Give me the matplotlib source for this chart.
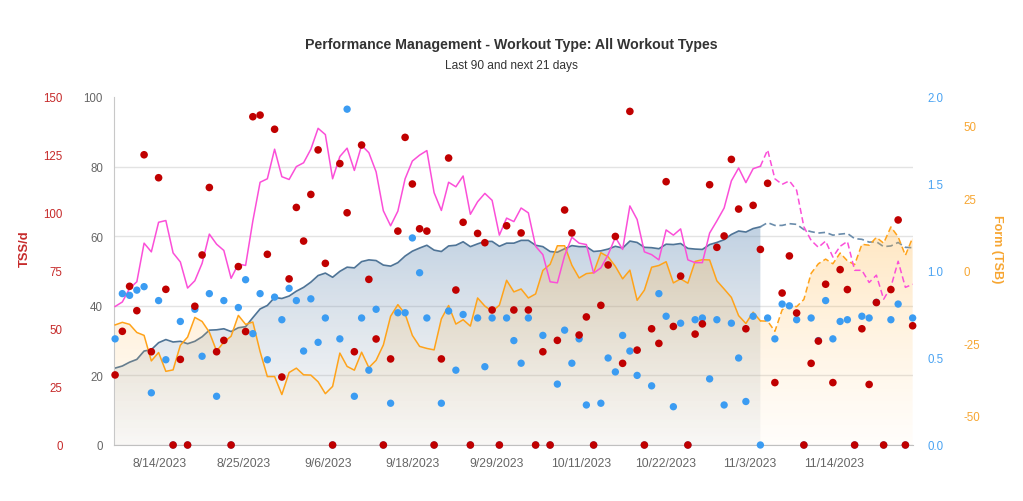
import matplotlib
matplotlib.use('Agg')
import matplotlib.pyplot as plt
import numpy as np
from matplotlib.colors import to_rgb

plt.rcParams['font.family'] = ['Liberation Sans', 'DejaVu Sans']
plt.rcParams['axes.unicode_minus'] = False

# daily values, 8/8/2023 .. 11/26/2023 (index 89 = today)
tss = [30.2, 49.0, 68.4, 57.9, 125.1, 40.2, 115.2, 67.1, 0, 36.9,
       0, 59.8, 81.9, 111.0, 40.2, 45.1, 0, 76.9, 48.9, 141.5,
       142.2, 82.2, 136.1, 29.3, 71.6, 102.4, 87.9, 108.0, 127.2, 78.3,
       0, 121.3, 100.1, 40.2, 129.3, 71.4, 45.7, 0, 37.1, 92.2,
       132.6, 112.5, 93.2, 92.2, 0, 37.1, 123.7, 66.8, 96.0, 0,
       91.2, 87.2, 58.2, 0, 94.5, 58.2, 91.4, 58.2, 0, 40.2,
       0, 45.1, 101.3, 91.4, 47.4, 55.2, 0, 60.2, 77.6, 89.9,
       35.2, 143.8, 40.9, 0, 50.1, 43.8, 113.5, 51.1, 72.8, 0,
       47.8, 52.2, 112.2, 85.2, 90.1, 123.1, 101.7, 50.1, 103.3, 84.3,
       112.8, 26.9, 65.5, 81.5, 56.9, 0, 35.2, 44.8, 69.3, 26.9,
       75.6, 67.0, 0, 50.1, 26.1, 61.4, 0, 67.0, 97.0, 0,
       51.4]

intensity = [0.61, 0.87, 0.86, 0.89, 0.91, 0.30, 0.83, 0.49, 0, 0.71,
             0, 0.78, 0.51, 0.87, 0.28, 0.83, 0, 0.79, 0.95, 0.64,
             0.87, 0.49, 0.85, 0.72, 0.90, 0.83, 0.54, 0.84, 0.59, 0.73,
             0, 0.61, 1.93, 0.28, 0.73, 0.43, 0.78, 0, 0.24, 0.76,
             0.76, 1.19, 0.99, 0.73, 0, 0.24, 0.77, 0.43, 0.75, 0,
             0.73, 0.45, 0.73, 0, 0.73, 0.60, 0.47, 0.73, 0, 0.63,
             0, 0.35, 0.66, 0.47, 0.61, 0.23, 0, 0.24, 0.50, 0.42,
             0.63, 0.54, 0.40, 0, 0.34, 0.87, 0.74, 0.22, 0.70, 0,
             0.72, 0.73, 0.38, 0.72, 0.23, 0.70, 0.50, 0.25, 0.74, 0,
             0.73, 0.61, 0.81, 0.80, 0.72, 0, 0.73, 0.60, 0.83, 0.61,
             0.71, 0.72, 0, 0.74, 0.73, 0.82, 0, 0.72, 0.81, 0,
             0.73]

ctl = [22.1, 22.7, 23.8, 24.6, 27.0, 27.4, 29.4, 30.3, 29.6, 29.8,
       29.1, 29.8, 31.1, 33.0, 33.1, 33.4, 32.6, 33.7, 34.0, 36.6,
       39.1, 40.1, 42.4, 42.1, 42.8, 44.2, 45.3, 46.8, 48.7, 49.4,
       48.2, 49.9, 51.1, 50.9, 52.7, 53.2, 53.0, 51.7, 51.4, 52.4,
       54.3, 55.7, 56.6, 57.4, 56.0, 55.6, 57.2, 57.4, 58.4, 57.0,
       57.8, 58.5, 58.5, 57.1, 58.0, 58.0, 58.8, 58.8, 57.4, 57.0,
       55.6, 55.4, 56.4, 57.3, 57.0, 57.0, 55.6, 55.8, 56.3, 57.1,
       56.6, 58.6, 58.2, 56.8, 56.7, 56.4, 57.7, 57.6, 57.9, 56.5,
       56.3, 56.2, 57.6, 58.2, 59.0, 60.5, 61.5, 61.2, 62.2, 62.7,
       63.9, 63.1, 63.1, 63.6, 63.4, 61.9, 61.3, 60.9, 61.1, 60.3,
       60.6, 60.8, 59.3, 59.1, 58.3, 58.4, 57.0, 57.2, 58.2, 56.8,
       56.7]

atl = [39.8, 41.1, 45.0, 46.9, 58.0, 55.5, 64.0, 64.5, 55.2, 52.6,
       45.1, 47.2, 52.2, 60.6, 57.7, 55.9, 47.9, 52.0, 51.6, 64.4,
       75.5, 76.5, 85.0, 77.1, 76.3, 80.0, 81.1, 85.0, 91.0, 89.2,
       76.5, 82.9, 85.3, 78.9, 86.1, 84.0, 78.5, 67.3, 63.0, 67.2,
       76.5, 81.6, 83.3, 84.6, 72.5, 67.4, 75.5, 74.2, 77.3, 66.3,
       69.9, 72.3, 70.3, 60.3, 65.2, 64.2, 68.1, 66.7, 57.1, 54.7,
       46.9, 46.6, 54.4, 59.7, 58.0, 57.6, 49.4, 50.9, 54.7, 59.7,
       56.2, 68.7, 64.8, 55.5, 54.7, 53.2, 61.8, 60.3, 62.1, 53.2,
       52.4, 52.4, 60.9, 64.4, 68.1, 75.9, 79.6, 75.4, 79.4, 80.1,
       84.8, 76.5, 74.9, 75.9, 73.2, 62.7, 58.8, 56.8, 58.6, 54.0,
       57.1, 58.5, 50.2, 50.2, 46.7, 48.8, 41.9, 45.4, 52.8, 45.3,
       46.2]

tsb = [-18.6, -17.7, -18.4, -21.2, -22.2, -31.0, -28.1, -34.6, -34.1, -25.6,
       -22.8, -16.0, -17.4, -21.1, -27.6, -24.5, -22.5, -15.3, -18.4, -17.6,
       -27.8, -36.4, -36.4, -42.6, -35.0, -33.5, -35.8, -35.9, -38.2, -42.3,
       -39.8, -28.3, -32.9, -34.2, -28.0, -33.3, -30.8, -25.5, -15.6, -11.6,
       -14.8, -22.2, -26.0, -26.7, -27.2, -16.5, -11.9, -18.3, -16.8, -19.0,
       -9.3, -12.1, -13.9, -11.8, -3.2, -7.2, -6.2, -9.3, -7.9, 0.2,
       2.3, 8.7, 8.7, 2.0, -2.4, -0.9, -0.6, 6.3, 4.9, 1.6,
       -2.7, 0.3, -10.1, -6.6, 1.3, 1.9, 3.2, -4.1, -2.7, -4.2,
       3.3, 3.9, 3.8, -3.4, -6.2, -9.1, -15.4, -18.1, -14.2, -17.2,
       -17.3, -20.8, -13.4, -11.8, -12.3, -9.8, -0.8, 2.5, 4.1, 2.5,
       6.2, 3.5, 2.2, 9.2, 8.9, 11.6, 9.6, 15.2, 11.8, 5.4,
       11.5]

tick_labels = ['8/14/2023', '8/25/2023', '9/6/2023', '9/18/2023', '9/29/2023',
               '10/11/2023', '10/22/2023', '11/3/2023', '11/14/2023']
tick_pos = [6.1, 17.7, 29.4, 41.0, 52.6, 64.3, 75.9, 87.6, 99.2]
today = 89

RED = '#c00000'
BLUE = '#3b9cf2'
ORANGE = '#ffa31a'
PINK = '#fb4fd8'
STEEL = '#4f7496'


def gradient_fill(axis, x, y, base, top_val, bot_val, c_top, c_bot, a_top, a_bot):
    poly = axis.fill_between(x, y, base, facecolor='none', edgecolor='none')
    t = np.linspace(0, 1, 256)[:, None]
    img = np.zeros((256, 1, 4))
    img[:, 0, :3] = np.array(to_rgb(c_top)) * (1 - t) + np.array(to_rgb(c_bot)) * t
    img[:, 0, 3] = (a_top * (1 - t) + a_bot * t)[:, 0]
    im = axis.imshow(img, aspect='auto', origin='upper', zorder=1,
                     extent=[x[0], x[-1], bot_val, top_val], interpolation='bilinear')
    im.set_clip_path(poly.get_paths()[0], transform=axis.transData)


def main():
    days = np.arange(len(tss))
    past = days[:today + 1]
    future = days[today:]

    fig = plt.figure(figsize=(10.23, 5.02), dpi=100)
    ax = fig.add_axes([114 / 1023, 1 - 446 / 502, 799 / 1023, 348 / 502])
    ax_tsb = ax.twinx()
    ax_atl = ax.twinx()
    ax_if = ax.twinx()
    ax_tss = ax.twinx()

    # fitness (CTL)
    gradient_fill(ax, past, ctl[:today + 1], 0, 100, 0, '#3576b8', '#a4abb3', 0.58, 0.07)
    ax.plot(past, ctl[:today + 1], color=STEEL, lw=1.2, zorder=2)
    ax.plot(future, ctl[today:], color='#6a8cab', lw=1.2, dashes=(4, 2.2), zorder=2)

    # form (TSB)
    gradient_fill(ax_tsb, days, tsb, -60, 60, -60, '#ffa31a', '#ffc870', 0.48, 0.03)
    ax_tsb.plot(past, tsb[:today + 1], color=ORANGE, lw=1.1, zorder=2)
    ax_tsb.plot(future, tsb[today:], color=ORANGE, lw=1.1, dashes=(4, 2.2), zorder=2)

    # fatigue (ATL)
    ax_atl.plot(past, atl[:today + 1], color=PINK, lw=1.1)
    ax_atl.plot(future, atl[today:], color=PINK, lw=1.1, dashes=(4, 2.2))

    ax_if.scatter(days, intensity, s=28, color=BLUE, edgecolors='none', clip_on=False, zorder=3)
    ax_tss.scatter(days, tss, s=30, color=RED, edgecolors='none', clip_on=False, zorder=3)

    for a in (ax, ax_tsb, ax_atl, ax_if, ax_tss):
        a.set_xlim(-0.15, 110.05)
        for s in ('top', 'right'):
            a.spines[s].set_visible(False)
    for a in (ax_tsb, ax_atl, ax_if, ax_tss):
        a.spines['left'].set_visible(False)
        a.spines['bottom'].set_visible(False)

    ax.set_ylim(0, 100)
    ax_atl.set_ylim(0, 100)
    ax_tsb.set_ylim(-60, 60)
    ax_if.set_ylim(0, 2)
    ax_tss.set_ylim(0, 150)

    ax.spines['left'].set_color('#c8c8c8')
    ax.spines['bottom'].set_color('#c0c0c0')
    ax.set_yticks([0, 20, 40, 60, 80, 100])
    ax.set_axisbelow(True)
    ax.grid(axis='y', color='#e3e3e3', lw=1)
    ax.yaxis.get_gridlines()[-1].set_visible(False)
    ax.tick_params(axis='y', length=0, pad=8, labelsize=8.3, labelcolor='#666666')
    ax.set_xticks(tick_pos, tick_labels)
    ax.tick_params(axis='x', length=0, pad=9, labelsize=8.7, labelcolor='#666666')

    ax_atl.yaxis.set_visible(False)

    ax_tss.yaxis.tick_left()
    ax_tss.set_yticks([0, 25, 50, 75, 100, 125, 150])
    ax_tss.tick_params(axis='y', length=0, pad=37, labelsize=8.3, labelcolor='#c62a2a')

    ax_if.set_yticks([0, 0.5, 1.0, 1.5, 2.0])
    ax_if.set_yticklabels(['0.0', '0.5', '1.0', '1.5', '2.0'])
    ax_if.tick_params(axis='y', length=0, pad=10.5, labelsize=8.3, labelcolor='#4aa3f2')

    ax_tsb.set_yticks([-50, -25, 0, 25, 50])
    ax_tsb.tick_params(axis='y', length=0, pad=36, labelsize=8.3, labelcolor='#f7a632')

    fig.text(511 / 1023, 1 - 45 / 502, 'Performance Management - Workout Type: All Workout Types',
             ha='center', va='center', fontsize=10.2, fontweight='bold', color='#333333')
    fig.text(511 / 1023, 1 - 66 / 502, 'Last 90 and next 21 days',
             ha='center', va='center', fontsize=8.6, color='#333333')
    fig.text(25 / 1023, 1 - 249 / 502, 'TSS/d', rotation=90, ha='center', va='center',
             fontsize=9.3, fontweight='bold', color='#c62a2a')
    fig.text(997 / 1023, 1 - 249 / 502, 'Form (TSB)', rotation=270, ha='center', va='center',
             fontsize=9, fontweight='bold', color='#f7a632')

    fig.savefig('out.png', dpi=100)


if __name__ == '__main__':
    main()
